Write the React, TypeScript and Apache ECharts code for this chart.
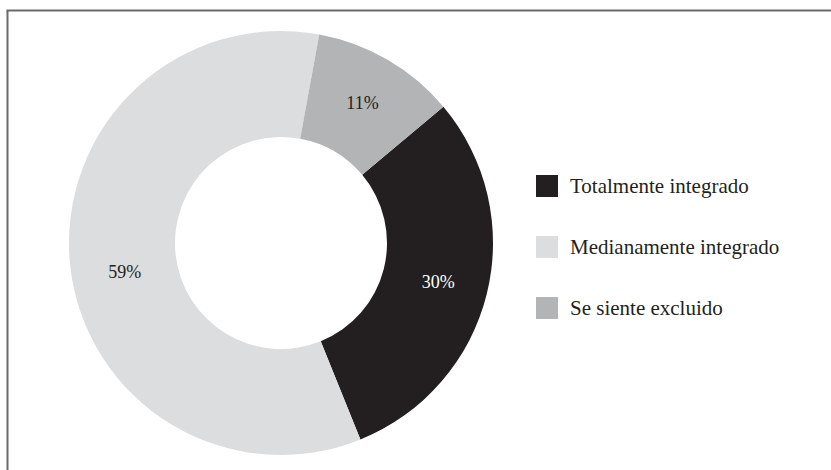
import React, { useEffect, useRef } from "react";
import * as echarts from "echarts";

const categories = ["Totalmente integrado", "Medianamente integrado", "Se siente excluido"];
const values = [30, 59, 11];
const colors = ["#231f20", "#dcdddf", "#b3b4b6"];
const labelColors = ["#ffffff", "#231f20", "#231f20"];

export default function App() {
  const ref = useRef<HTMLDivElement>(null);
  useEffect(() => {
    if (!ref.current) return;
    const chart = echarts.init(ref.current, null, { renderer: "svg" });
    const font = "'Liberation Serif', 'DejaVu Serif', serif";
    chart.setOption({
      animation: false,
      backgroundColor: "#ffffff",
      legend: {
        orient: "vertical",
        left: 531,
        top: 170,
        itemWidth: 22,
        itemHeight: 22,
        itemGap: 39,
        icon: "rect",
        data: categories,
        textStyle: {
          fontFamily: font,
          fontSize: 21,
          color: "#231f20",
          lineHeight: 22,
          padding: [0, 0, 0, 7],
        },
      },
      graphic: [
        {
          type: "line",
          shape: { x1: 7.5, y1: 10.5, x2: 7.5, y2: 470 },
          style: { stroke: "#6a6a6a", lineWidth: 2 },
        },
        {
          type: "line",
          shape: { x1: 6.5, y1: 10.5, x2: 831, y2: 10.5 },
          style: { stroke: "#6a6a6a", lineWidth: 2 },
        },
      ],
      series: [
        {
          type: "pie",
          center: [281, 243],
          radius: [106, 212],
          startAngle: 40,
          clockwise: true,
          avoidLabelOverlap: false,
          label: {
            show: true,
            position: "inside",
            formatter: "{c}%",
            fontFamily: font,
            fontSize: 18,
          },
          labelLine: { show: false },
          emphasis: { disabled: true },
          data: categories.map((name, i) => ({
            name,
            value: values[i],
            itemStyle: { color: colors[i] },
            label: i === 1 ? { color: labelColors[i], offset: [5, 13] } : { color: labelColors[i] },
          })),
        },
      ],
    });
    return () => chart.dispose();
  }, []);
  return (
    <div
      ref={ref}
      style={{ position: "fixed", left: 0, top: 0, width: 831, height: 470 }}
    />
  );
}
